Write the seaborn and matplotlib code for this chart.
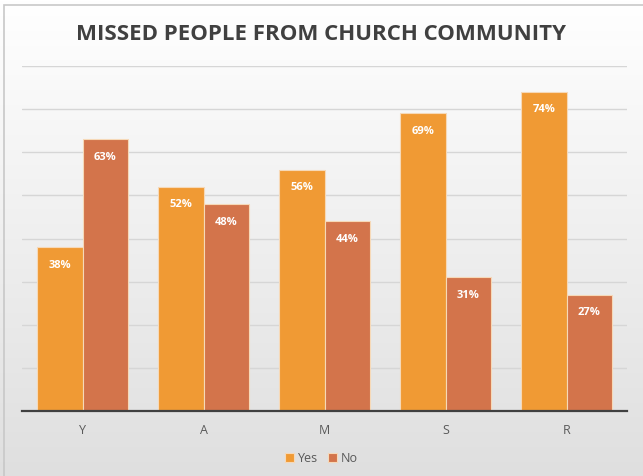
import numpy as np
import pandas as pd
import matplotlib
matplotlib.use("Agg")
import matplotlib.pyplot as plt
import seaborn as sns
from matplotlib.patches import Rectangle

groups = ["Y", "A", "M", "S", "R"]
yes_values = [38, 52, 56, 69, 74]
no_values = [63, 48, 44, 31, 27]
series = ["Yes", "No"]
colors = {"Yes": "#F09A34", "No": "#D3744B"}

df = pd.DataFrame({
    "group": groups * 2,
    "answer": ["Yes"] * len(groups) + ["No"] * len(groups),
    "pct": yes_values + no_values,
})

sns.set_theme(style="white")
plt.rcParams["font.family"] = ["Open Sans", "DejaVu Sans"]

fig = plt.figure(figsize=(6.43, 4.76), dpi=100)

# soft vertical gradient behind the chart
bg = fig.add_axes([0, 0, 1, 1], zorder=-10)
grad = np.linspace(1.0, 0.0, 256).reshape(-1, 1)
top = np.array([1.0, 1.0, 1.0])
bot = np.array([0.875, 0.875, 0.875])
img = (grad[..., None] * top + (1 - grad[..., None]) * bot)
bg.imshow(img, aspect="auto", extent=[0, 1, 0, 1], origin="upper")
bg.set_xlim(0, 1)
bg.set_ylim(0, 1)
bg.axis("off")
# frame edge along top and left
fig.patches.append(Rectangle((4 / 643, -0.1), 1.2, 1.1 - 5 / 476,
                             transform=fig.transFigure, fill=False,
                             edgecolor="#c8c8c8", linewidth=1.2, zorder=-5))

ax = fig.add_axes([22 / 643, 1 - 411 / 476, 605 / 643, (411 - 66) / 476])
ax.patch.set_alpha(0)

sns.barplot(data=df, x="group", y="pct", hue="answer", hue_order=series,
            order=groups, palette=colors, width=0.75, gap=0.0,
            saturation=1, edgecolor="#f6d9b8", linewidth=0.8, ax=ax,
            legend=True)

ax.set_ylim(0, 80)
ax.set_yticks(range(10, 81, 10))
ax.yaxis.grid(True, color="#d6d6d6", linewidth=1)
ax.set_axisbelow(True)
ax.tick_params(axis="y", left=False, labelleft=False)
ax.tick_params(axis="x", bottom=False, labelsize=9, colors="#595959", pad=3)
ax.set_xlabel("")
ax.set_ylabel("")
for s in ["top", "right", "left"]:
    ax.spines[s].set_visible(False)
ax.spines["bottom"].set_color("#404040")
ax.spines["bottom"].set_linewidth(1.6)

for container in ax.containers:
    ax.bar_label(container, labels=[f"{v:.0f}%" for v in container.datavalues],
                 padding=-17, color="white", fontsize=8, fontweight="bold")

handles, labels = ax.get_legend_handles_labels()
ax.legend_.remove()
leg = fig.legend(handles, labels, loc="center", bbox_to_anchor=(0.5, 1 - 458 / 476),
                 ncol=2, frameon=False, fontsize=9, handlelength=0.7,
                 handleheight=0.7, handletextpad=0.3, columnspacing=0.8,
                 labelcolor="#595959")

fig.text(0.5, 1 - 35 / 476, "MISSED PEOPLE FROM CHURCH COMMUNITY",
         ha="center", va="center", fontsize=16, fontweight="bold",
         color="#404040")

fig.savefig("out.png", dpi=100)
